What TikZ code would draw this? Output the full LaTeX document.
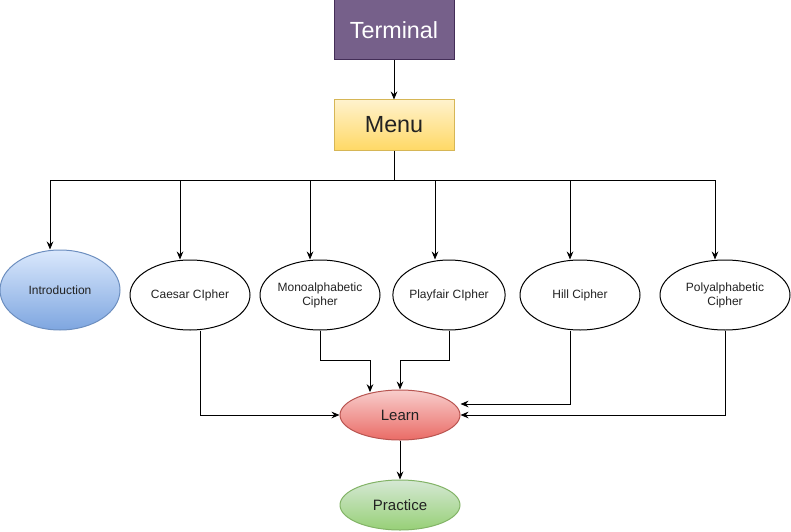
\documentclass[tikz,border=0pt]{standalone}
\usepackage{fontspec}
\setmainfont{Liberation Sans}
\usetikzlibrary{shapes.geometric,arrows.meta}

\definecolor{termfill}{HTML}{76608A}
\definecolor{termline}{HTML}{432D57}
\definecolor{menutop}{HTML}{FFF2CC}
\definecolor{menubot}{HTML}{FFD966}
\definecolor{menuline}{HTML}{D6B656}
\definecolor{introtop}{HTML}{DAE8FC}
\definecolor{introbot}{HTML}{7EA6E0}
\definecolor{introline}{HTML}{6C8EBF}
\definecolor{learntop}{HTML}{F8CECC}
\definecolor{learnbot}{HTML}{EA6B66}
\definecolor{learnline}{HTML}{B85450}
\definecolor{practop}{HTML}{D5E8D4}
\definecolor{pracbot}{HTML}{97D077}
\definecolor{pracline}{HTML}{82B366}
\definecolor{labeltext}{HTML}{222222}

\begin{document}
\begin{tikzpicture}[
    x=0.75pt, y=-0.75pt,
    box/.style={rectangle, draw, line width=0.75pt, minimum width=90pt, inner sep=0pt, font=\fontsize{17.5}{21}\selectfont},
    cipher/.style={ellipse, draw, line width=0.75pt, minimum width=90pt, minimum height=52.5pt, inner sep=0pt, align=center, text=labeltext, font=\fontsize{9}{10.5}\selectfont},
    stage/.style={ellipse, line width=0.75pt, minimum width=90pt, minimum height=37.5pt, inner sep=0pt, text=labeltext, font=\fontsize{11.25}{13}\selectfont},
    link/.style={line width=0.75pt, -{Stealth[length=6pt,width=5pt,inset=2pt]}}
]
\useasboundingbox (0,0) rectangle (791,531);

% Top
\node[box, fill=termfill, draw=termline, text=white, minimum height=45pt] (terminal) at (394,30) {Terminal};
\node[box, top color=menutop, bottom color=menubot, draw=menuline, text=labeltext, minimum height=37.5pt] (menu) at (394,125) {Menu};
\coordinate (bus) at (394,180);

% Ciphers
\node[cipher, top color=introtop, bottom color=introbot, draw=introline, minimum height=60pt] (intro) at (60,290) {Introduction};
\node[cipher] (caesar) at (190,295) {Caesar CIpher};
\node[cipher] (mono) at (320,295) {Monoalphabetic\\Cipher};
\node[cipher, minimum width=84pt] (playfair) at (449,295) {Playfair CIpher};
\node[cipher] (hill) at (580,295) {Hill Cipher};
\node[cipher, minimum width=97.5pt] (poly) at (725,295) {Polyalphabetic\\Cipher};

% Bottom
\node[stage, top color=learntop, bottom color=learnbot, draw=learnline] (learn) at (400,415) {Learn};
\node[stage, top color=practop, bottom color=pracbot, draw=pracline] (practice) at (400,505) {Practice};

\draw[link] (terminal) -- (menu);
\draw[line width=0.75pt] (menu.south) -- (bus);
\draw[link] (bus) -| ([xshift=-7.5pt]intro.north);
\draw[link] (bus) -| ([xshift=-7.5pt]caesar.north);
\draw[link] (bus) -| ([xshift=-7.5pt]mono.north);
\draw[link] (bus) -| ([xshift=-10.5pt]playfair.north);
\draw[link] (bus) -| ([xshift=-7.5pt]hill.north);
\draw[link] (bus) -| ([xshift=-7.5pt]poly.north);

\draw[link] ([xshift=7.5pt]caesar.south) |- (learn.west);
\draw[link] (mono.south) -- ++(0,30) -| ([xshift=-22.5pt,yshift=-2pt]learn.north);
\draw[link] (playfair.south) -- ++(0,30) -| (learn.north);
\draw[link] ([xshift=-7.5pt]hill.south) |- ([yshift=8.25pt]learn.east);
\draw[link] (poly.south) |- (learn.east);
\draw[link] (learn) -- (practice);

\end{tikzpicture}
\end{document}
